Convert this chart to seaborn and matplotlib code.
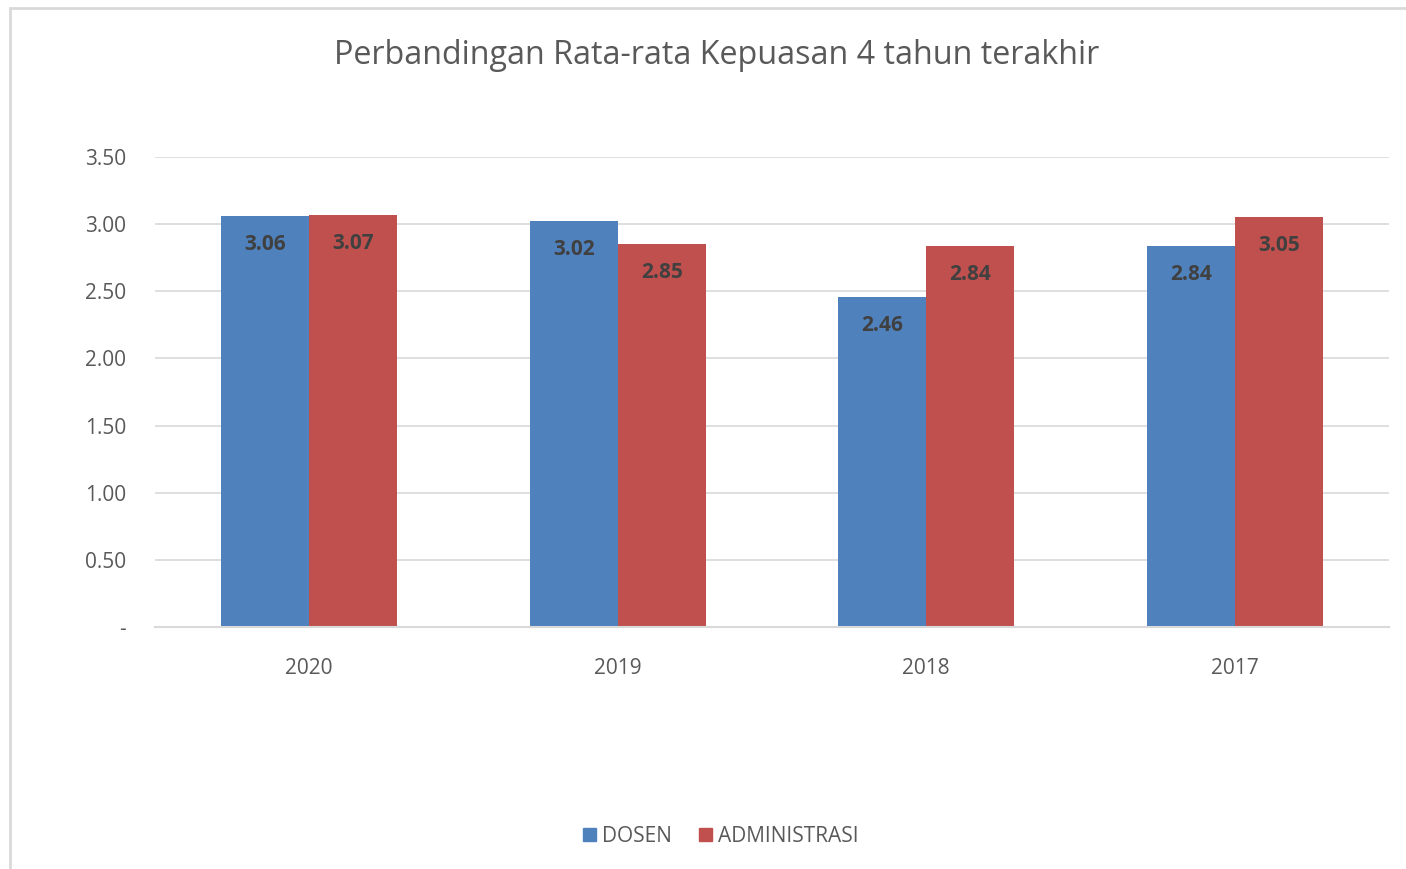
import matplotlib
matplotlib.use("Agg")
import matplotlib.pyplot as plt
import seaborn as sns
import pandas as pd
from matplotlib.patches import Rectangle
from matplotlib.ticker import FuncFormatter

years = ["2020", "2019", "2018", "2017"]
dosen = [3.06, 3.02, 2.46, 2.84]
administrasi = [3.07, 2.85, 2.84, 3.05]
series_names = ["DOSEN", "ADMINISTRASI"]
colors = ["#4F81BD", "#C0504D"]

df = pd.DataFrame({
    "year": years * 2,
    "value": dosen + administrasi,
    "series": [series_names[0]] * len(years) + [series_names[1]] * len(years),
})

sns.set_theme(style="white")
plt.rcParams["font.family"] = ["Open Sans", "DejaVu Sans"]

fig = plt.figure(figsize=(14.06, 8.69), dpi=100)
ax = fig.add_axes([155 / 1406, 1 - 627 / 869, (1389 - 155) / 1406, (627 - 157) / 869])

sns.barplot(data=df, x="year", y="value", hue="series", order=years,
            hue_order=series_names, palette=colors, width=0.57,
            saturation=1, ax=ax, legend=True, linewidth=0)

ax.set_ylim(0, 3.5)
ax.set_yticks([0, 0.5, 1.0, 1.5, 2.0, 2.5, 3.0, 3.5])
ax.yaxis.set_major_formatter(FuncFormatter(lambda v, p: "-" if v == 0 else f"{v:.2f}"))
ax.grid(axis="y", color="#D9D9D9", linewidth=1.2)
ax.set_axisbelow(True)
for s in ["top", "right", "left"]:
    ax.spines[s].set_visible(False)
ax.spines["bottom"].set_color("#D9D9D9")
ax.spines["bottom"].set_linewidth(1.5)
ax.set_xlabel("")
ax.set_ylabel("")
ax.tick_params(axis="y", length=0, pad=21, labelsize=15, labelcolor="#595959")
ax.tick_params(axis="x", length=0, pad=22, labelsize=15, labelcolor="#595959")

for cont in ax.containers:
    ax.bar_label(cont, fmt="%.2f", padding=-28, fontsize=15, fontweight="bold",
                 color="#404040")

ax.legend_.remove()
handles = [Rectangle((0, 0), 1, 1, color=c) for c in colors]
fig.legend(handles, series_names, loc="center", bbox_to_anchor=(721 / 1406, 1 - 836 / 869),
           ncol=2, frameon=False, fontsize=15, labelcolor="#595959",
           handlelength=0.6, handleheight=0.6, handletextpad=0.3, columnspacing=1.3)

fig.text(717 / 1406, 1 - 55 / 869, "Perbandingan Rata-rata Kepuasan 4 tahun terakhir",
         ha="center", va="center", fontsize=23.2, color="#595959")

fig.patches.append(Rectangle((10 / 1406, -0.05), 1.1, 1 - 8 / 869 + 0.05,
                             transform=fig.transFigure, fill=False,
                             edgecolor="#D9D9D9", linewidth=2, figure=fig))

fig.savefig("out.png", dpi=100, facecolor="white")
